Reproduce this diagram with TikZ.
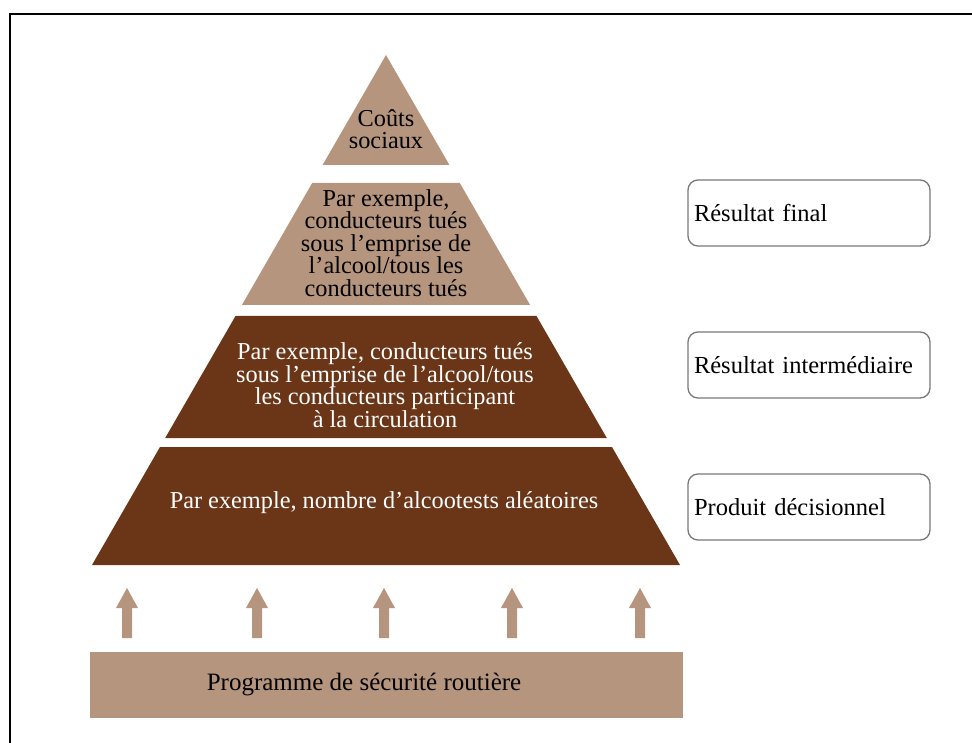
\documentclass[tikz,border=0pt]{standalone}
\usepackage{fontspec}
\setmainfont{Liberation Serif}
\usetikzlibrary{arrows.meta}
\definecolor{lightbr}{RGB}{182,149,126}
\definecolor{darkbr}{RGB}{107,54,24}
\definecolor{boxgray}{RGB}{120,120,120}
\tikzset{
  layertxt/.style={align=center, font=\fontsize{24.3}{22.6}\selectfont, inner sep=0pt},
  sidebox/.style={draw=boxgray, line width=1.3pt, rounded corners=10pt, fill=white,
    minimum width=242pt, minimum height=66pt, text width=230pt, align=left,
    inner sep=0pt, font=\fontsize{24.5}{26}\selectfont},
}
\begin{document}
\begin{tikzpicture}[x=1pt,y=-1pt]
\useasboundingbox (0,0) rectangle (972,743);
\draw[line width=2pt] (10,743) -- (10,14) -- (972,14);

% pyramid layers
\fill[lightbr] (386,55) -- (449.4,165) -- (322.6,165) -- cycle;
\fill[lightbr] (312.2,183) -- (459.8,183) -- (530.1,305) -- (241.9,305) -- cycle;
\fill[darkbr] (235.5,316) -- (536.5,316) -- (606.8,438) -- (165.2,438) -- cycle;
\fill[darkbr] (160,447) -- (612,447) -- (680,565) -- (92,565) -- cycle;

\node[layertxt] (l1) at (386,129) {Coûts\\sociaux};
\node[layertxt] (l2) at (386,243) {Par exemple,\\conducteurs tués\\sous l’emprise de\\l’alcool/tous les\\conducteurs tués};
\node[layertxt, text=white] (l3) at (385,385) {Par exemple, conducteurs tués\\sous l’emprise de l’alcool/tous\\les conducteurs participant\\à la circulation};
\node[layertxt, text=white] (l4) at (384,503) {Par exemple, nombre d’alcootests aléatoires};

% side boxes
\node[sidebox] (b1) at (809,213) {Résultat final};
\node[sidebox] (b2) at (809,365) {Résultat intermédiaire};
\node[sidebox] (b3) at (809,507) {Produit décisionnel};

% bottom bar
\node[fill=lightbr, minimum width=593pt, minimum height=66pt, inner sep=0pt] (bar) at (386.5,685) {};
\node[inner sep=0pt, font=\fontsize{25}{28}\selectfont] (bartxt) at (364,685) {Programme de sécurité routière};

% arrows
\foreach \i/\x in {1/127,2/257,3/384,4/512,5/640}{
  \coordinate (as\i) at (\x,638);
  \coordinate (at\i) at (\x,588);
  \fill[lightbr] (as\i) ++(-5,0) -- ++(0,-30) -- ++(-6,0) -- (at\i) -- ++(11,20) -- ++(-6,0) -- ++(0,30) -- cycle;
}
\end{tikzpicture}
\end{document}
